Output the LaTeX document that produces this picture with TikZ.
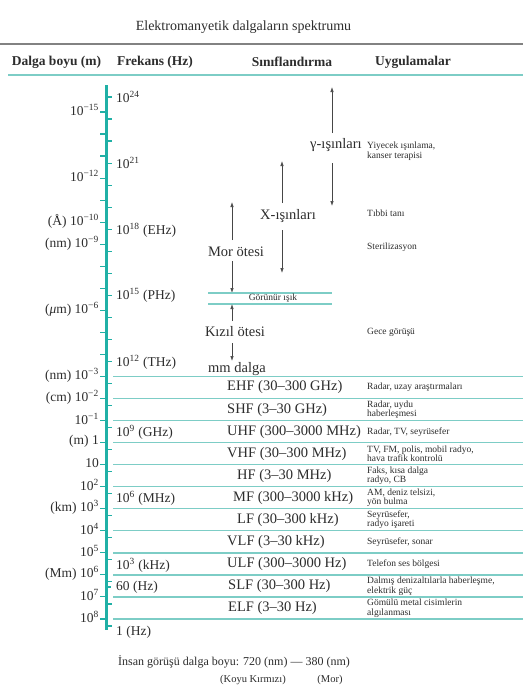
\documentclass[tikz,border=0pt]{standalone}
\usepackage{fontspec}
\setmainfont{Liberation Serif}
\usetikzlibrary{arrows.meta}
\definecolor{axisteal}{RGB}{32,176,166}
\definecolor{lineteal}{RGB}{125,205,198}
\definecolor{arrgray}{RGB}{70,70,70}
\definecolor{txt}{RGB}{45,45,45}
\definecolor{rulegray}{RGB}{130,130,130}
\begin{document}
\begin{tikzpicture}[x=1pt,y=-1pt,
  every node/.style={inner sep=0pt,text=txt},
  wl/.style={anchor=east,font=\fontsize{13.5}{15}\selectfont},
  fq/.style={anchor=west,font=\fontsize{13.5}{15}\selectfont},
  bandlbl/.style={anchor=west,font=\fontsize{14.5}{16}\selectfont},
  cls/.style={font=\fontsize{14.5}{16}\selectfont},
  app/.style={anchor=west,align=left,font=\fontsize{9.5}{9.5}\selectfont},
  hdr/.style={font=\bfseries\fontsize{13.5}{15}\selectfont},
  axisline/.style={draw=axisteal,line width=3pt},
  tickline/.style={draw=axisteal,line width=1.2pt},
  bandline/.style={draw=lineteal,line width=1.4pt},
  arr/.style={draw=arrgray,line width=0.7pt,-{Latex[length=5pt,width=3.5pt]}}
]
\useasboundingbox (0,0) rectangle (523,686);
\fill[white] (0,0) rectangle (523,686);

% title and header
\node[font=\fontsize{14}{16}\selectfont] (title) at (243.5,27) {Elektromanyetik dalgaların spektrumu};
\coordinate (r1a) at (0,44); \coordinate (r1b) at (523,44);
\draw[draw=rulegray,line width=1.3pt] (r1a) -- (r1b);
\node[hdr] (h1) at (56.5,62) {Dalga boyu (m)};
\node[hdr] (h2) at (155,62) {Frekans (Hz)};
\node[hdr] (h3) at (292,62) {Sınıflandırma};
\node[hdr] (h4) at (413,62) {Uygulamalar};
\coordinate (r2a) at (8,75); \coordinate (r2b) at (523,75);
\draw[bandline] (r2a) -- (r2b);

% axis
\coordinate (axtop) at (106,85); \coordinate (axbot) at (106,630);
\draw[axisline] (axtop) -- (axbot);
\foreach \n in {-15,...,8} \draw[tickline] (100,{112+(\n+15)*22.04}) -- (106,{112+(\n+15)*22.04});
\foreach \k in {0,...,24} \draw[tickline] (106,{97+(24-\k)*22.04}) -- (112,{97+(24-\k)*22.04});
\draw[tickline] (106,587) -- (111,587);

% band lines
\foreach \n in {-3,...,8} \draw[bandline] (113,{112+(\n+15)*22.04}) -- (523,{112+(\n+15)*22.04});

% wavelength labels
\node[wl] (w15) at (99,110) {10\textsuperscript{−15}};
\node[wl] (w12) at (99,176) {10\textsuperscript{−12}};
\node[wl] (w10) at (99,221) {(Å) 10\textsuperscript{−10}};
\node[wl] (w9) at (99,243) {(nm) 10\textsuperscript{−9}};
\node[wl] (w6) at (99,309) {(\textit{μ}m) 10\textsuperscript{−6}};
\node[wl] (w3) at (99,375) {(nm) 10\textsuperscript{−3}};
\node[wl] (w2) at (99,397) {(cm) 10\textsuperscript{−2}};
\node[wl] (w1) at (99,419) {10\textsuperscript{−1}};
\node[wl] (w0) at (99,441) {(m) 1};
\node[wl] (wp1) at (99,463) {10};
\node[wl] (wp2) at (99,485) {10\textsuperscript{2}};
\node[wl] (wp3) at (99,507) {(km) 10\textsuperscript{3}};
\node[wl] (wp4) at (99,529) {10\textsuperscript{4}};
\node[wl] (wp5) at (99,551) {10\textsuperscript{5}};
\node[wl] (wp6) at (99,573) {(Mm) 10\textsuperscript{6}};
\node[wl] (wp7) at (99,595) {10\textsuperscript{7}};
\node[wl] (wp8) at (99,617) {10\textsuperscript{8}};

% frequency labels
\node[fq] (f24) at (116,97) {10\textsuperscript{24}};
\node[fq] (f21) at (116,163) {10\textsuperscript{21}};
\node[fq] (f18) at (116,230) {10\textsuperscript{18} (EHz)};
\node[fq] (f15) at (116,295) {10\textsuperscript{15} (PHz)};
\node[fq] (f12) at (116,362) {10\textsuperscript{12} (THz)};
\node[fq] (f9) at (116,432) {10\textsuperscript{9} (GHz)};
\node[fq] (f6) at (116,498) {10\textsuperscript{6} (MHz)};
\node[fq] (f3) at (116,565) {10\textsuperscript{3} (kHz)};
\node[fq] (f60) at (116,587) {60 (Hz)};
\node[fq] (f0) at (116,632) {1 (Hz)};

% classification: upper part
\node[cls] (gam) at (336,145) {γ-ışınları};
\coordinate (g1) at (332,133); \coordinate (g2) at (332,87);
\coordinate (g3) at (332,163); \coordinate (g4) at (332,206);
\draw[arr] (g1) -- (g2); \draw[arr] (g3) -- (g4);

\node[cls] (xr) at (288,216) {X-ışınları};
\coordinate (x1) at (282,203); \coordinate (x2) at (282,161);
\coordinate (x3) at (282,230); \coordinate (x4) at (282,273);
\draw[arr] (x1) -- (x2); \draw[arr] (x3) -- (x4);

\node[cls] (uv) at (236,252) {Mor ötesi};
\coordinate (u1) at (232,240); \coordinate (u2) at (232,202);
\coordinate (u3) at (232,261); \coordinate (u4) at (232,293);
\draw[arr] (u1) -- (u2); \draw[arr] (u3) -- (u4);

\coordinate (v1) at (208,293); \coordinate (v2) at (332,293);
\coordinate (v3) at (208,304); \coordinate (v4) at (332,304);
\draw[bandline] (v1) -- (v2); \draw[bandline] (v3) -- (v4);
\node[font=\fontsize{9.5}{9.5}\selectfont] (vis) at (273,298.5) {Görünür ışık};

\node[cls] (ir) at (235,332) {Kızıl ötesi};
\coordinate (i1) at (232,321); \coordinate (i2) at (232,304);
\coordinate (i3) at (232,343); \coordinate (i4) at (232,361);
\draw[arr] (i1) -- (i2); \draw[arr] (i3) -- (i4);

\node[cls] (mm) at (237,369) {mm dalga};

% bands
\node[bandlbl] (ehf) at (227,387.5) {EHF (30–300 GHz)};
\node[bandlbl] (shf) at (227,409.6) {SHF (3–30 GHz)};
\node[bandlbl] (uhf) at (227,431.7) {UHF (300–3000 MHz)};
\node[bandlbl] (vhf) at (227,453.7) {VHF (30–300 MHz)};
\node[bandlbl] (hf) at (237,475.7) {HF (3–30 MHz)};
\node[bandlbl] (mf) at (233,497.8) {MF (300–3000 kHz)};
\node[bandlbl] (lf) at (237,519.8) {LF (30–300 kHz)};
\node[bandlbl] (vlf) at (227,541.9) {VLF (3–30 kHz)};
\node[bandlbl] (ulf) at (227,563.9) {ULF (300–3000 Hz)};
\node[bandlbl] (slf) at (228,586) {SLF (30–300 Hz)};
\node[bandlbl] (elf) at (228,608) {ELF (3–30 Hz)};

% applications
\node[app] (a1) at (367,151) {Yiyecek ışınlama,\\kanser terapisi};
\node[app] (a2) at (367,213) {Tıbbi tanı};
\node[app] (a3) at (367,247) {Sterilizasyon};
\node[app] (a4) at (367,332) {Gece görüşü};
\node[app] (a5) at (367,387.5) {Radar, uzay araştırmaları};
\node[app] (a6) at (367,409.6) {Radar, uydu\\haberleşmesi};
\node[app] (a7) at (367,431.7) {Radar, TV, seyrüsefer};
\node[app] (a8) at (367,453.7) {TV, FM, polis, mobil radyo,\\hava trafik kontrolü};
\node[app] (a9) at (367,475.7) {Faks, kısa dalga\\radyo, CB};
\node[app] (a10) at (367,497.8) {AM, deniz telsizi,\\yön bulma};
\node[app] (a11) at (367,519.8) {Seyrüsefer,\\radyo işareti};
\node[app] (a12) at (367,541.9) {Seyrüsefer, sonar};
\node[app] (a13) at (367,563.9) {Telefon ses bölgesi};
\node[app] (a14) at (367,586) {Dalmış denizaltılarla haberleşme,\\elektrik güç};
\node[app] (a15) at (367,608) {Gömülü metal cisimlerin\\algılanması};

% bottom note
\node[anchor=west,font=\fontsize{12}{14}\selectfont] (note) at (118,662) {İnsan görüşü dalga boyu: 720 (nm) — 380 (nm)};
\node[font=\fontsize{10.5}{12}\selectfont] (red) at (253,680) {(Koyu Kırmızı)};
\node[font=\fontsize{10.5}{12}\selectfont] (mor) at (330,680) {(Mor)};
\end{tikzpicture}
\end{document}
